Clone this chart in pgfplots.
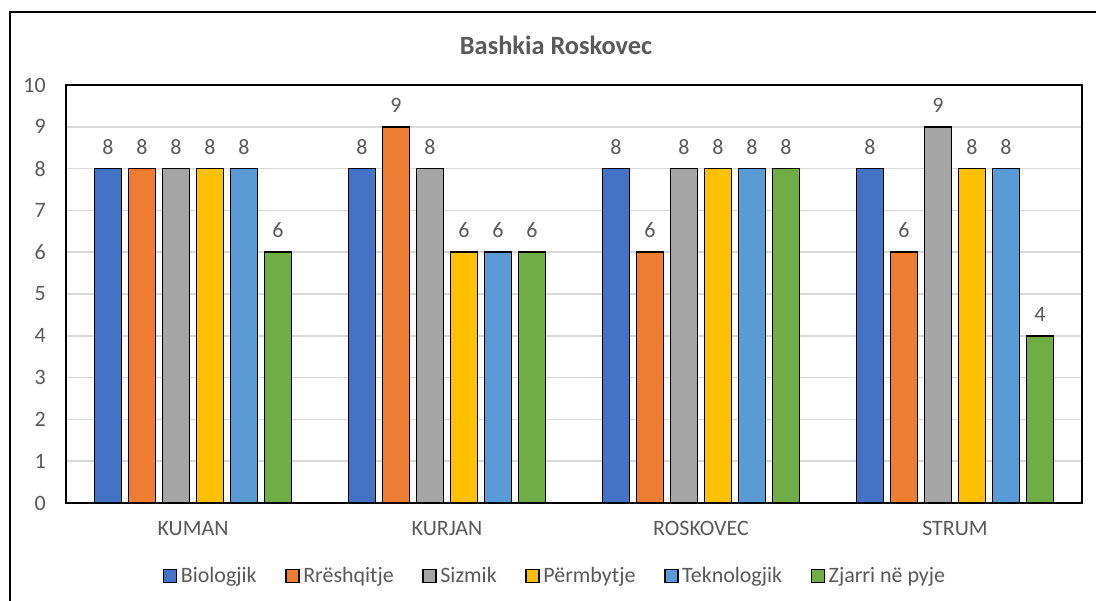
\documentclass[border=0pt]{standalone}
\usepackage{fontspec}
\setmainfont{Carlito}
\usepackage{pgfplots}
\pgfplotsset{compat=1.18}
\definecolor{txt}{HTML}{595959}
\definecolor{gridc}{HTML}{D9D9D9}
\definecolor{c1}{HTML}{4472C4}
\definecolor{c2}{HTML}{ED7D31}
\definecolor{c3}{HTML}{A5A5A5}
\definecolor{c4}{HTML}{FFC000}
\definecolor{c5}{HTML}{5B9BD5}
\definecolor{c6}{HTML}{70AD47}

\begin{document}
\begin{tikzpicture}
\path[use as bounding box] (0,0) rectangle (21.92,12);
\draw[line width=1pt] (0.2,-1) -- (0.2,11.76) -- (23,11.76);
\node[font=\fontsize{15}{18}\selectfont\bfseries,text=txt] at (11.12,11.1) {Bashkia Roskovec};
\begin{axis}[
at={(1.32cm,1.94cm)},anchor=south west,scale only axis,
width=20.32cm,height=8.36cm,
ybar,bar width=0.54cm,
xmin=-0.5,xmax=3.5,ymin=0,ymax=10,
xtick={0,1,2,3},xticklabels={KUMAN,KURJAN,ROSKOVEC,STRUM},
ytick={0,1,...,10},
major tick length=0pt,
ymajorgrids=true,grid style={gridc,line width=0.9pt},
axis line style={black,line width=0.9pt},
/pgf/number format/assume math mode=true,
tick label style={font=\fontsize{12.5}{15}\selectfont,text=txt},
yticklabel style={xshift=-8pt},
xticklabel style={yshift=-7pt},
nodes near coords,
nodes near coords style={font=\fontsize{12.5}{15}\selectfont,text=txt,anchor=base,yshift=0.29cm},
every axis plot/.append style={draw=black,line width=1pt},
legend columns=6,
legend style={at={(axis description cs:0.482,-0.1746)},anchor=center,draw=none,
  font=\fontsize{12.5}{15}\selectfont,text=txt,
  /tikz/every even column/.append style={column sep=0.5cm}},
legend image code/.code={\draw[#1,draw=black,line width=0.9pt] (-0.05cm,-0.13cm) rectangle (0.21cm,0.13cm);},
]
\addplot[fill=c1,bar shift=-1.7cm] coordinates {(0,8) (1,8) (2,8) (3,8)};
\addlegendentry{Biologjik}
\addplot[fill=c2,bar shift=-1.02cm] coordinates {(0,8) (1,9) (2,6) (3,6)};
\addlegendentry{Rrëshqitje}
\addplot[fill=c3,bar shift=-0.34cm] coordinates {(0,8) (1,8) (2,8) (3,9)};
\addlegendentry{Sizmik}
\addplot[fill=c4,bar shift=0.34cm] coordinates {(0,8) (1,6) (2,8) (3,8)};
\addlegendentry{Përmbytje}
\addplot[fill=c5,bar shift=1.02cm] coordinates {(0,8) (1,6) (2,8) (3,8)};
\addlegendentry{Teknologjik}
\addplot[fill=c6,bar shift=1.7cm] coordinates {(0,6) (1,6) (2,8) (3,4)};
\addlegendentry{Zjarri në pyje}
\end{axis}
\end{tikzpicture}
\end{document}
